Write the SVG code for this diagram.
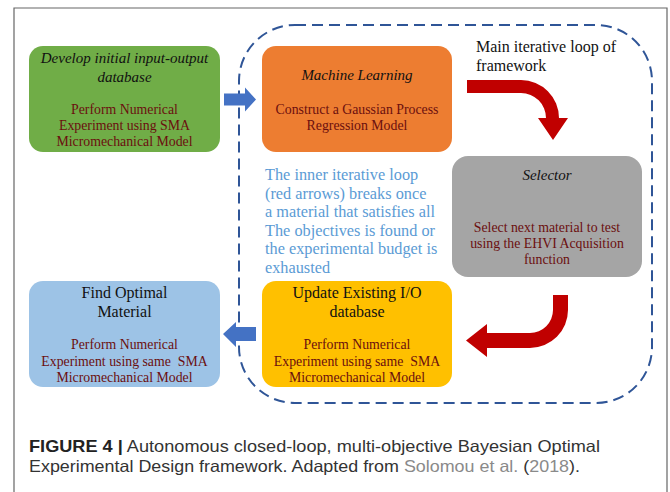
<svg xmlns="http://www.w3.org/2000/svg" width="670" height="492" viewBox="0 0 670 492">
<style>
  .box{stroke:none}
  .t{font-family:"Liberation Serif","DejaVu Serif",serif;text-anchor:middle}
  .hd{font-size:15px;fill:#111}
  .it{font-style:italic}
  .sub{font-size:13.8px;fill:#6b0f0f}
  .note{font-family:"Liberation Serif","DejaVu Serif",serif;font-size:16.3px;fill:#5b9bd5}
  .cap{font-family:"Liberation Sans",Arial,sans-serif;font-size:16.5px;fill:#333}
  .link{fill:#8a8a8a}
  .blue{fill:#4472c4}
  .red{fill:#c00000}
</style>
<rect x="0" y="0" width="670" height="492" fill="#ffffff"/>
<path d="M14,492 V8 H667 V492" fill="none" stroke="#666" stroke-width="1.2"/>

<g id="loop">
  <rect x="239" y="25" width="413" height="378" rx="56" ry="56" fill="none" stroke="#2f5597" stroke-width="2" stroke-dasharray="11,6"/>
</g>

<g id="develop">
  <rect class="box" x="29" y="46" width="191" height="106" rx="14" fill="#70ad47"/>
  <text class="t hd it" x="124.5" y="63">Develop initial input-output</text>
  <text class="t hd it" x="124.5" y="82">database</text>
  <text class="t sub" x="124.5" y="114">Perform Numerical</text>
  <text class="t sub" x="124.5" y="130">Experiment using SMA</text>
  <text class="t sub" x="124.5" y="146">Micromechanical Model</text>
</g>

<g id="ml">
  <rect class="box" x="262" y="46" width="190" height="106" rx="14" fill="#ed7d31"/>
  <text class="t hd it" x="357" y="80">Machine Learning</text>
  <text class="t sub" x="357" y="114">Construct a Gaussian Process</text>
  <text class="t sub" x="357" y="130">Regression Model</text>
</g>

<g id="selector">
  <rect class="box" x="452" y="156" width="190" height="121" rx="16" fill="#a5a5a5"/>
  <text class="t hd it" x="547" y="180">Selector</text>
  <text class="t sub" x="547" y="232">Select next material to test</text>
  <text class="t sub" x="547" y="248">using the EHVI Acquisition</text>
  <text class="t sub" x="547" y="264">function</text>
</g>

<g id="update">
  <rect class="box" x="262" y="281" width="190" height="106" rx="14" fill="#ffc000"/>
  <text class="t hd" x="357" y="298" style="font-size:16px">Update Existing I/O</text>
  <text class="t hd" x="357" y="317" style="font-size:16px">database</text>
  <text class="t sub" x="357" y="349">Perform Numerical</text>
  <text class="t sub" x="357" y="366" xml:space="preserve">Experiment using same  SMA</text>
  <text class="t sub" x="357" y="382">Micromechanical Model</text>
</g>

<g id="optimal">
  <rect class="box" x="29" y="281" width="191" height="106" rx="14" fill="#9dc3e6"/>
  <text class="t hd" x="124.5" y="298" style="font-size:16px">Find Optimal</text>
  <text class="t hd" x="124.5" y="317" style="font-size:16px">Material</text>
  <text class="t sub" x="124.5" y="349">Perform Numerical</text>
  <text class="t sub" x="124.5" y="366" xml:space="preserve">Experiment using same  SMA</text>
  <text class="t sub" x="124.5" y="382">Micromechanical Model</text>
</g>

<g id="labels">
  <text class="t" x="476" y="52" style="text-anchor:start;font-size:16px;fill:#111">Main iterative loop of</text>
  <text class="t" x="476" y="71" style="text-anchor:start;font-size:16px;fill:#111">framework</text>
  <text class="note" x="265" y="180">The inner iterative loop</text>
  <text class="note" x="265" y="198.5">(red arrows) breaks once</text>
  <text class="note" x="265" y="217">a material that satisfies all</text>
  <text class="note" x="265" y="235.5">The objectives is found or</text>
  <text class="note" x="265" y="254">the experimental budget is</text>
  <text class="note" x="265" y="272.5">exhausted</text>
</g>

<g id="connectors">
  <path class="blue" d="M224,93.5 H245 V87.5 L256,99.5 L245,111.5 V105.5 H224 Z"/>
  <path class="blue" d="M256,327 H236 V322 L223,334 L236,347 V341 H256 Z"/>
  <path class="red" d="M467,80 H521 A38,38 0 0 1 559,118 H568 L553,140 L538,118 H546 A25,25 0 0 0 521,93 H467 Z"/>
  <path class="red" d="M553,295 H568 V310 A38,38 0 0 1 530,348 H487 V357 L466,340.5 L487,324 V333 H530 A23,23 0 0 0 553,310 Z"/>
</g>

<g id="caption">
  <text class="cap" x="29" y="452" textLength="571" lengthAdjust="spacingAndGlyphs"><tspan font-weight="bold" fill="#222">FIGURE 4 |</tspan> Autonomous closed-loop, multi-objective Bayesian Optimal</text>
  <text class="cap" x="29" y="472" textLength="551" lengthAdjust="spacingAndGlyphs">Experimental Design framework. Adapted from <tspan class="link">Solomou et al.</tspan> (<tspan class="link">2018</tspan>).</text>
</g>
</svg>
